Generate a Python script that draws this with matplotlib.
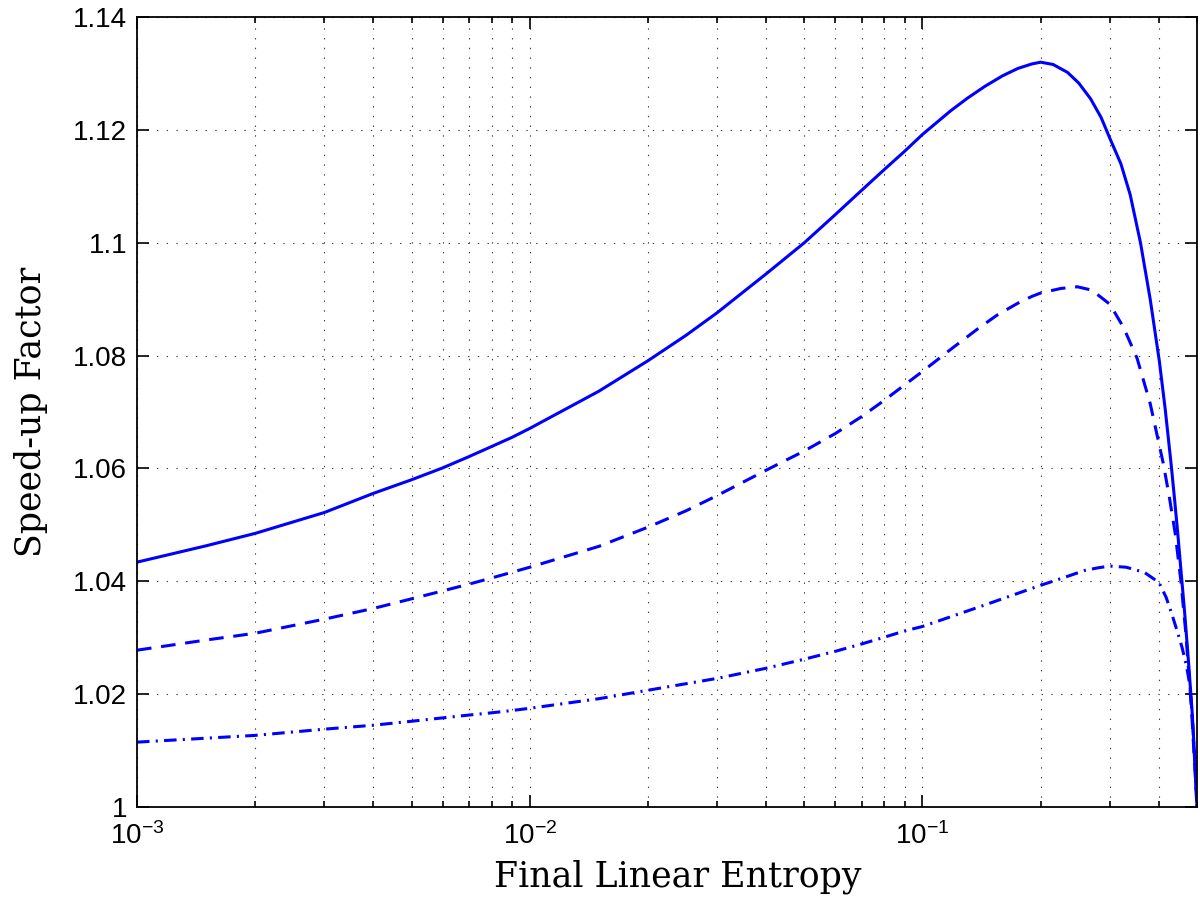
import math
import matplotlib
matplotlib.use("Agg")
import matplotlib.pyplot as plt
from matplotlib.ticker import FixedLocator, FuncFormatter, LogLocator, NullFormatter

# solid curve
x_solid = [0.001, 0.0015, 0.002, 0.003, 0.004, 0.005, 0.006, 0.007, 0.008, 0.009, 0.01,
           0.015, 0.02, 0.025, 0.03, 0.04, 0.05, 0.06, 0.07, 0.08, 0.09, 0.1,
           0.118, 0.13, 0.144, 0.16, 0.175, 0.19, 0.2, 0.215, 0.234, 0.25,
           0.268, 0.285, 0.3, 0.32, 0.338, 0.359, 0.38, 0.401, 0.415, 0.43,
           0.438, 0.446, 0.465, 0.476, 0.486, 0.494, 0.5]
y_solid = [1.0434, 1.0463, 1.0485, 1.0522, 1.0556, 1.0580, 1.0601, 1.0621, 1.0639, 1.0655, 1.0671,
           1.0737, 1.0791, 1.0836, 1.0876, 1.0945, 1.1000, 1.1050, 1.1093, 1.1130, 1.1162, 1.1192,
           1.1234, 1.1256, 1.1277, 1.1296, 1.1309, 1.1317, 1.1320, 1.1316, 1.1302, 1.1283,
           1.1255, 1.1222, 1.1185, 1.1140, 1.1085, 1.1000, 1.0900, 1.0790, 1.0705, 1.0605,
           1.0548, 1.0490, 1.0345, 1.0255, 1.0168, 1.0080, 1.0000]

# dashed curve
x_dash = [0.001, 0.0015, 0.002, 0.003, 0.004, 0.005, 0.006, 0.007, 0.008, 0.009, 0.01,
          0.015, 0.02, 0.025, 0.03, 0.04, 0.05, 0.06, 0.07, 0.08, 0.09, 0.1,
          0.12, 0.138, 0.155, 0.175, 0.19, 0.2, 0.225, 0.248, 0.27, 0.3,
          0.325, 0.352, 0.38, 0.41, 0.425, 0.44, 0.455, 0.468, 0.484, 0.5]
y_dash = [1.0278, 1.0296, 1.0308, 1.0333, 1.0352, 1.0369, 1.0383, 1.0395, 1.0406, 1.0416, 1.0425,
          1.0462, 1.0496, 1.0525, 1.0552, 1.0597, 1.0631, 1.0662, 1.0692, 1.0721, 1.0748, 1.0772,
          1.0815, 1.0847, 1.0872, 1.0893, 1.0905, 1.0911, 1.0919, 1.0922, 1.0916, 1.0891,
          1.0850, 1.0795, 1.0715, 1.0610, 1.0550, 1.0485, 1.0400, 1.0310, 1.0175, 1.0000]

# dash-dot curve
x_dd = [0.001, 0.0015, 0.002, 0.003, 0.004, 0.005, 0.006, 0.007, 0.008, 0.009, 0.01,
        0.015, 0.02, 0.03, 0.04, 0.05, 0.06, 0.07, 0.08, 0.09, 0.1,
        0.144, 0.2, 0.23, 0.258, 0.28, 0.3, 0.33, 0.367, 0.4, 0.417,
        0.43, 0.446, 0.458, 0.47, 0.48, 0.488, 0.5]
y_dd = [1.0115, 1.0122, 1.0127, 1.0138, 1.0145, 1.0152, 1.0158, 1.0163, 1.0167, 1.0171, 1.0175,
        1.0192, 1.0207, 1.0228, 1.0246, 1.0262, 1.0276, 1.0289, 1.0301, 1.0312, 1.0320,
        1.0358, 1.0393, 1.0407, 1.0419, 1.0424, 1.0427, 1.0425, 1.0416, 1.0398, 1.0372,
        1.0345, 1.0310, 1.0283, 1.0250, 1.0215, 1.0145, 1.0000]

y_ticks = [1.0, 1.02, 1.04, 1.06, 1.08, 1.1, 1.12, 1.14]

plt.rcParams['font.family'] = ['Liberation Sans', 'DejaVu Sans']
plt.rcParams['mathtext.fontset'] = 'custom'
plt.rcParams['mathtext.rm'] = 'Liberation Sans'
plt.rcParams['mathtext.it'] = 'Liberation Sans:italic'
plt.rcParams['lines.scale_dashes'] = False

fig = plt.figure(figsize=(12, 8.98), dpi=100)
ax = fig.add_axes([0.1142, 0.1013, 0.8833, 0.8797])

blue = (0, 0, 1)
ax.plot(x_solid, y_solid, color=blue, lw=2.2, solid_joinstyle='round')
ax.plot(x_dash, y_dash, color=blue, lw=2.2, dashes=(10.5, 7))
ax.plot(x_dd, y_dd, color=blue, lw=2.2, dashes=(9, 4.5, 1.5, 4.5))

ax.set_xscale('log')
ax.set_xlim(1e-3, 0.5)
ax.set_ylim(1.0, 1.14)

ax.xaxis.set_major_locator(FixedLocator([1e-3, 1e-2, 1e-1]))
ax.xaxis.set_major_formatter(FuncFormatter(lambda v, p: r'$10^{%d}$' % round(math.log10(v))))
ax.xaxis.set_minor_locator(LogLocator(base=10, subs=range(2, 10)))
ax.xaxis.set_minor_formatter(NullFormatter())
ax.yaxis.set_major_locator(FixedLocator(y_ticks))
ax.yaxis.set_major_formatter(FuncFormatter(lambda v, p: '%g' % round(v, 2)))

ax.grid(True, which='major', axis='both', color='0.25', lw=0.8, linestyle=(0, (1, 6)))
ax.grid(True, which='minor', axis='x', color='0.25', lw=0.8, linestyle=(0, (1, 6)))

ax.tick_params(which='both', direction='in', top=True, right=True, width=1.2)
ax.tick_params(which='major', length=8.5, labelsize=20)
ax.tick_params(which='minor', length=4.5)
ax.tick_params(axis='x', which='major', pad=11)
ax.tick_params(axis='y', which='major', pad=7)
for s in ax.spines.values():
    s.set_linewidth(1.3)

ax.set_xlabel('Final Linear Entropy', family='DejaVu Serif', fontsize=25, labelpad=7)
ax.xaxis.label.set_x(0.51)
ax.set_ylabel('Speed-up Factor', family='DejaVu Serif', fontsize=25, labelpad=18)

fig.savefig('out.png', dpi=100)
